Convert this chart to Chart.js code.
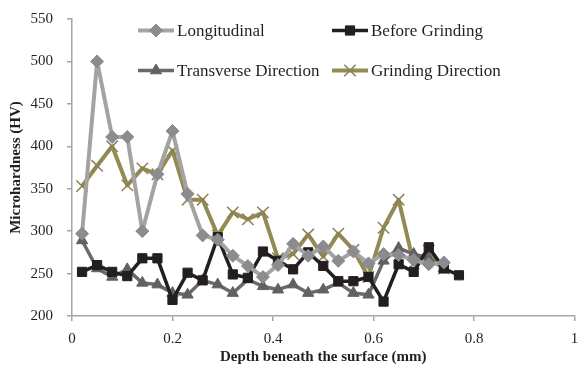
<!DOCTYPE html>
<html>
<head>
<meta charset="utf-8">
<script src="https://cdn.jsdelivr.net/npm/chart.js@4.4.1/dist/chart.umd.min.js"></script>
<style>
  html, body { margin: 0; padding: 0; background: #fff; }
  #box { width: 579px; height: 370px; }
</style>
</head>
<body>
<div id="box"><canvas id="grafico"></canvas></div>
<script>
// profundidade (mm) de cada ponto medido
const profundidade = [0.02, 0.05, 0.08, 0.11, 0.14, 0.17, 0.20, 0.23, 0.26, 0.29, 0.32, 0.35, 0.38,
                      0.41, 0.44, 0.47, 0.50, 0.53, 0.56, 0.59, 0.62, 0.65, 0.68, 0.71, 0.74, 0.77];

const longitudinal = [297, 500, 411, 411, 300, 367, 418, 344, 295, 290, 271, 259, 246,
                      260, 285, 271, 282, 265, 276, 262, 273, 272, 266, 261, 263];
const antesRetifica = [252, 260, 252, 247, 268, 268, 219, 251, 242, 293, 249, 245, 276,
                       265, 255, 275, 259, 241, 241, 246, 217, 261, 252, 281, 256, 248];
const transversal = [289, 256, 246, 255, 239, 237, 227, 225, 242, 237, 227, 243, 235,
                     231, 237, 227, 231, 239, 227, 225, 265, 280, 273, 268, 256];
const direcaoRetifica = [353, 377, 400, 354, 374, 367, 395, 337, 337, 295, 322, 314, 322,
                         268, 273, 296, 270, 297, 278, 246, 304, 337, 262, 277, 256];

const xTicks = ['0', '0.2', '0.4', '0.6', '0.8', '1'];
const yTicks = ['200', '250', '300', '350', '400', '450', '500', '550'];

function pontos(valores) { // junta profundidade e valor
  return valores.map((v, i) => ({ x: profundidade[i], y: v }));
}

const corEixo = '#a6a6a6';
const corTexto = '#231f20';
const fonte = '"Liberation Serif", "Times New Roman", serif';

const series = [
  { label: 'Longitudinal', data: pontos(longitudinal), borderColor: '#a3a3a3', backgroundColor: '#8c8c90',
    pointBorderColor: '#8c8c90', pointStyle: 'rectRot', pointRadius: 6.5, borderWidth: 4, pointBorderWidth: 1 },
  { label: 'Before Grinding', data: pontos(antesRetifica), borderColor: '#231f20', backgroundColor: '#231f20',
    pointBorderColor: '#231f20', pointStyle: 'rect', pointRadius: 6.5, borderWidth: 3.5, pointBorderWidth: 1 },
  { label: 'Transverse Direction', data: pontos(transversal), borderColor: '#6a6a6a', backgroundColor: '#616161',
    pointBorderColor: '#616161', pointStyle: 'triangle', pointRadius: 6.5, borderWidth: 3.5, pointBorderWidth: 1 },
  { label: 'Grinding Direction', data: pontos(direcaoRetifica), borderColor: '#948a54', backgroundColor: '#948a54',
    pointBorderColor: '#8a8250', pointStyle: 'crossRot', pointRadius: 8, borderWidth: 4, pointBorderWidth: 1.5 }
];

// legenda desenhada dentro da area do grafico, em duas colunas
const legendaInterna = {
  id: 'legendaInterna',
  afterDraw(chart) {
    const ctx = chart.ctx;
    const pos = [[138, 30.5], [332, 30.5], [138, 70.5], [332, 70.5]];
    chart.data.datasets.forEach((ds, i) => {
      const [x, y] = pos[i];
      ctx.save();
      ctx.strokeStyle = ds.borderColor;
      ctx.lineWidth = ds.borderWidth;
      ctx.beginPath();
      ctx.moveTo(x, y);
      ctx.lineTo(x + 36, y);
      ctx.stroke();
      ctx.fillStyle = ds.backgroundColor;
      ctx.strokeStyle = ds.pointBorderColor;
      ctx.lineWidth = ds.pointBorderWidth;
      Chart.helpers.drawPoint(ctx, {
        pointStyle: ds.pointStyle, radius: ds.pointRadius, borderWidth: ds.pointBorderWidth
      }, x + 18, y);
      ctx.fillStyle = corTexto;
      ctx.font = '17px ' + fonte;
      ctx.textBaseline = 'middle';
      ctx.fillText(ds.label, x + 39, y + 1);
      ctx.restore();
    });
  }
};

const grafico = new Chart(document.getElementById('grafico'), {
  type: 'line',
  data: { datasets: series },
  options: {
    responsive: true,
    maintainAspectRatio: false,
    animation: false,
    layout: { autoPadding: false, padding: { left: 3, top: 19, right: 4.5, bottom: 0 } },
    plugins: { legend: { display: false }, tooltip: { enabled: false } },
    elements: { line: { tension: 0, borderJoinStyle: 'round' } },
    scales: {
      x: {
        type: 'linear', min: 0, max: 1,
        afterBuildTicks: s => { s.ticks = xTicks.map(t => ({ value: parseFloat(t) })); },
        afterFit: s => { s.height = 54; s.paddingLeft = 0; s.paddingRight = 0; },
        ticks: { callback: (v, i) => xTicks[i], color: corTexto, padding: 9,
                 font: { family: fonte, size: 15 }, maxRotation: 0 },
        grid: { display: true, drawOnChartArea: false, drawTicks: true, tickLength: 5, color: corEixo, lineWidth: 1.5 },
        border: { display: true, color: corEixo, width: 1.5 },
        title: { display: true, text: 'Depth beneath the surface (mm)', color: corTexto,
                 font: { family: fonte, size: 15, weight: 'bold' }, padding: { top: 2, bottom: 4 } }
      },
      y: {
        min: 200, max: 550,
        afterBuildTicks: s => { s.ticks = yTicks.map(t => ({ value: parseFloat(t) })); },
        afterFit: s => { s.width = 69; s.paddingTop = 0; s.paddingBottom = 0; },
        ticks: { callback: (v, i) => yTicks[i], color: corTexto, padding: 14,
                 font: { family: fonte, size: 15 } },
        grid: { display: true, drawOnChartArea: false, drawTicks: true, tickLength: 5, color: corEixo, lineWidth: 1.5 },
        border: { display: true, color: corEixo, width: 1.5 },
        title: { display: true, text: 'Microhardness (HV)', color: corTexto,
                 font: { family: fonte, size: 15, weight: 'bold' }, padding: { top: 4, bottom: 4 } }
      }
    }
  },
  plugins: [legendaInterna]
});
</script>
</body>
</html>
